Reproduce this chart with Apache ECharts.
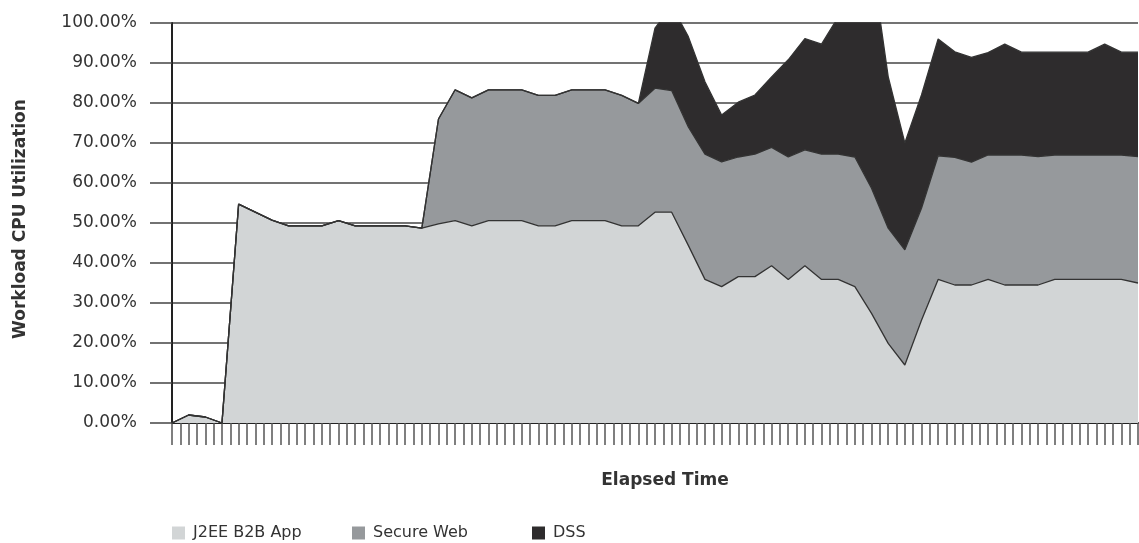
<!DOCTYPE html>
<html>
<head>
<meta charset="utf-8">
<script src="https://cdn.jsdelivr.net/npm/echarts@6/dist/echarts.min.js"></script>
<style>
html,body{margin:0;padding:0;background:#fff;}
#chart{width:1139px;height:543px;}
</style>
</head>
<body>
<div id="chart"></div>
<script>
// x categories (sample points, elapsed time steps, unlabeled)
const categories = ["1","2","3","4","5","6","7","8","9","10","11","12","13","14","15","16","17","18","19","20","21","22","23","24","25","26","27","28","29","30","31","32","33","34","35","36","37","38","39","40","41","42","43","44","45","46","47","48","49","50","51","52","53","54","55","56","57","58","59"];
// half-step tick positions (ticks between samples too)
const tickCategories = ["1","1.5","2","2.5","3","3.5","4","4.5","5","5.5","6","6.5","7","7.5","8","8.5","9","9.5","10","10.5","11","11.5","12","12.5","13","13.5","14","14.5","15","15.5","16","16.5","17","17.5","18","18.5","19","19.5","20","20.5","21","21.5","22","22.5","23","23.5","24","24.5","25","25.5","26","26.5","27","27.5","28","28.5","29","29.5","30","30.5","31","31.5","32","32.5","33","33.5","34","34.5","35","35.5","36","36.5","37","37.5","38","38.5","39","39.5","40","40.5","41","41.5","42","42.5","43","43.5","44","44.5","45","45.5","46","46.5","47","47.5","48","48.5","49","49.5","50","50.5","51","51.5","52","52.5","53","53.5","54","54.5","55","55.5","56","56.5","57","57.5","58","58.5","59"];

const seriesNames = ["J2EE B2B App", "Secure Web", "DSS"];

const j2ee = [0, 2, 1.5, 0, 54.7, 52.7, 50.7, 49.3, 49.3, 49.3, 50.6, 49.3, 49.3, 49.3, 49.3, 48.7, 49.8, 50.6, 49.3, 50.6, 50.6, 50.6, 49.3, 49.3, 50.6, 50.6, 50.6, 49.3, 49.3, 52.7, 52.7, 44.4, 35.9, 34.1, 36.6, 36.6, 39.3, 35.9, 39.3, 35.9, 35.9, 34.1, 27.4, 19.9, 14.5, 25.7, 35.9, 34.5, 34.5, 35.9, 34.5, 34.5, 34.5, 35.9, 35.9, 35.9, 35.9, 35.9, 35];

const secureWeb = [0, 0, 0, 0, 0, 0, 0, 0, 0, 0, 0, 0, 0, 0, 0, 0, 26.2, 32.7, 32, 32.7, 32.7, 32.7, 32.6, 32.6, 32.7, 32.7, 32.7, 32.6, 30.6, 31, 30.4, 29.6, 31.3, 31.2, 29.9, 30.6, 29.6, 30.6, 29, 31.3, 31.3, 32.4, 31.3, 28.8, 28.8, 28, 30.9, 31.9, 30.7, 31.1, 32.5, 32.5, 32.1, 31.1, 31.1, 31.1, 31.1, 31.1, 31.6];

const dss = [0, 0, 0, 0, 0, 0, 0, 0, 0, 0, 0, 0, 0, 0, 0, 0, 0, 0, 0, 0, 0, 0, 0, 0, 0, 0, 0, 0, 0, 15, 21.2, 22.6, 18.1, 11.7, 13.7, 14.8, 17.6, 24.3, 27.8, 27.5, 34.3, 43.5, 57.3, 37.9, 26.7, 28.3, 29.2, 26.4, 26.2, 25.6, 27.7, 25.7, 26.1, 25.7, 25.7, 25.7, 27.7, 25.7, 26.1];

const colors = ["#d2d5d6", "#96999c", "#2e2c2d"];
const FONT = "DejaVu Sans";

const chart = echarts.init(document.getElementById('chart'), null, {renderer: 'canvas'});

function mkSeries(name, data, color) {
  return {
    name: name,
    type: 'line',
    stack: 'total',
    data: data,
    symbol: 'none',
    clip: true,
    lineStyle: {color: '#333333', width: 1.3},
    areaStyle: {color: color, opacity: 1},
    itemStyle: {color: color},
    emphasis: {disabled: true},
    z: 3
  };
}

const legendBase = {
  top: 520,
  icon: 'rect',
  itemWidth: 13,
  itemHeight: 13,
  itemGap: 5,
  selectedMode: false,
  textStyle: {fontFamily: FONT, fontSize: 16, color: '#333', padding: [0, 0, 0, 3]}
};

chart.setOption({
  animation: false,
  backgroundColor: '#fff',
  grid: {left: 172, right: 1, top: 23, bottom: 120, containLabel: false},
  legend: [
    Object.assign({}, legendBase, {left: 167, data: [seriesNames[0]]}),
    Object.assign({}, legendBase, {left: 347, data: [seriesNames[1]]}),
    Object.assign({}, legendBase, {left: 527, data: [seriesNames[2]]})
  ],
  xAxis: [
    {
      type: 'category',
      data: categories,
      boundaryGap: false,
      axisLine: {show: true, lineStyle: {color: '#222', width: 2}},
      axisTick: {show: false},
      axisLabel: {show: false},
      splitLine: {show: false}
    },
    {
      type: 'category',
      data: tickCategories,
      boundaryGap: false,
      position: 'bottom',
      axisLine: {show: false},
      axisTick: {show: true, interval: 0, length: 22, lineStyle: {color: '#555', width: 1.5}},
      axisLabel: {show: false},
      splitLine: {show: false}
    }
  ],
  yAxis: {
    type: 'value',
    min: 0,
    max: 100,
    interval: 10,
    axisLine: {show: true, onZero: false, lineStyle: {color: '#222', width: 2}},
    axisTick: {show: true, length: 22, lineStyle: {color: '#444', width: 1.5}},
    axisLabel: {
      margin: 35,
      fontFamily: FONT,
      fontSize: 17,
      color: '#333',
      formatter: function (v) { return v.toFixed(2) + '%'; }
    },
    splitLine: {show: true, lineStyle: {color: '#444', width: 1.5}}
  },
  graphic: [
    {
      type: 'text',
      x: 21, y: 219,
      rotation: Math.PI / 2,
      style: {
        text: 'Workload CPU Utilization',
        font: 'bold 17px "' + FONT + '"',
        fill: '#333',
        align: 'center',
        verticalAlign: 'middle'
      }
    },
    {
      type: 'text',
      x: 665, y: 481,
      style: {
        text: 'Elapsed Time',
        font: 'bold 17px "' + FONT + '"',
        fill: '#333',
        align: 'center',
        verticalAlign: 'middle'
      }
    }
  ],
  series: [
    mkSeries(seriesNames[0], j2ee, colors[0]),
    mkSeries(seriesNames[1], secureWeb, colors[1]),
    mkSeries(seriesNames[2], dss, colors[2])
  ]
});
</script>
</body>
</html>
